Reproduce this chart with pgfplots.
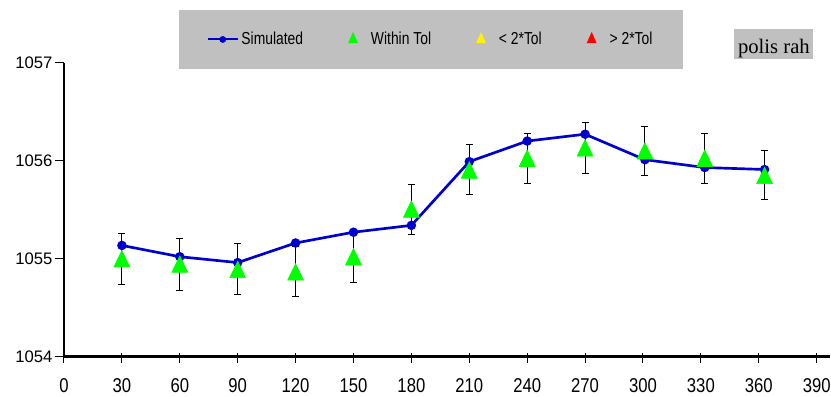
\documentclass[border=0pt]{standalone}
\usepackage{pgfplots}
\pgfplotsset{compat=1.18}
\usepackage{fontspec}
\setmainfont{Liberation Sans}
\newfontfamily\legfont{Liberation Sans}[FakeStretch=0.8]
\newfontfamily\seriffont{Liberation Serif}
\definecolor{simblue}{RGB}{0,0,204}
\definecolor{tolgreen}{RGB}{0,255,0}
\definecolor{boxgray}{RGB}{192,192,192}
\pgfplotsset{
  markleg/.style={legend image code/.code={\path (0pt,0pt) (22.5pt,0pt); \draw[##1] plot coordinates {(11.25pt,0pt)};}},
  lineleg/.style={legend image code/.code={\draw[mark repeat=2,mark phase=2,##1] plot coordinates {(0pt,0pt) (11.25pt,0pt) (22.5pt,0pt)};}},
}
\begin{document}
\begin{tikzpicture}
\begin{axis}[
  at={(0,0)}, anchor=south west,
  scale only axis, width=564.5pt, height=220.5pt,
  xmin=0, xmax=390, ymin=1054, ymax=1057,
  xtick={0,30,...,390}, ytick={1054,1055,1056,1057},
  axis lines=left, axis line style={-, line width=1.8pt},
  tick align=center, major tick length=7pt,
  tick style={black, line width=0.75pt},
  xtick style={yshift=-1pt}, ytick style={xshift=-3.5pt},
  /pgf/number format/assume math mode=true,
  /pgf/number format/1000 sep={},
  ticklabel style={font=\fontsize{12.5}{14}\selectfont},
  xticklabel style={inner sep=0pt, anchor=north, yshift=-12.5pt},
  yticklabel style={inner sep=0pt, anchor=east, xshift=-5pt},
  xticklabel={\scalebox{1}[1.2]{\pgfmathprintnumber{\tick}}},
  clip=false,
  legend columns=4,
  legend style={at={(0.4875,1.0789)}, anchor=center, fill=boxgray, draw=none,
    font=\legfont\fontsize{13}{15}\selectfont, inner xsep=21pt, inner ysep=14.5pt,
    /tikz/every even column/.append style={column sep=24pt}},
  legend cell align=left,
]
\addplot[simblue, line width=2pt, mark=*, mark size=2.5pt, mark options={solid}, forget plot] coordinates {
(30,1055.135) (60,1055.02) (90,1054.96) (120,1055.16) (150,1055.27) (180,1055.34)
(210,1055.99) (240,1056.20) (270,1056.27) (301,1056.01) (332,1055.93) (363,1055.91)};
\addplot[only marks, mark=none, forget plot,
  error bars/.cd, y dir=both, y explicit, error mark=-,
  error bar style={black, line width=0.75pt},
  error mark options={black, line width=0.75pt, mark size=2.6pt, rotate=90}]
 table[x=x, y=y, y error=e] {
x y e
30 1055.00 0.26
60 1054.945 0.265
90 1054.89 0.26
120 1054.865 0.255
150 1055.02 0.26
180 1055.505 0.255
210 1055.905 0.255
240 1056.025 0.255
270 1056.13 0.26
301 1056.10 0.25
332 1056.025 0.255
363 1055.85 0.25
};
\addplot[only marks, mark=triangle*, mark size=6.9pt, color=tolgreen, mark options={yshift=-2.07pt, yscale=1.2}, forget plot]
 table[x=x, y=y] {
x y
30 1055.00
60 1054.945
90 1054.89
120 1054.865
150 1055.02
180 1055.505
210 1055.905
240 1056.025
270 1056.13
301 1056.10
332 1056.025
363 1055.85
};
\addlegendimage{lineleg, simblue, line width=1.5pt, mark=*, mark size=1.75pt}
\addlegendentry{Simulated}
\addlegendimage{markleg, only marks, mark=triangle*, mark size=3.9pt, color=tolgreen, mark options={yscale=1.3}}
\addlegendentry{Within Tol}
\addlegendimage{markleg, only marks, mark=triangle*, mark size=3.9pt, color=yellow, mark options={yscale=1.3}}
\addlegendentry{< 2*Tol}
\addlegendimage{markleg, only marks, mark=triangle*, mark size=3.9pt, color=red, mark options={yscale=1.3}}
\addlegendentry{> 2*Tol}
\draw[line width=1.8pt] (axis cs:390,1054) -- ++(10pt,0pt);
\path[fill=boxgray] (axis description cs:0.8901,1.0127) rectangle (axis description cs:0.9951,1.1147);
\node[anchor=base, inner sep=0pt, font=\seriffont\fontsize{15.5}{17}\selectfont] at (axis description cs:0.9432,1.0295) {polis rah};
\end{axis}
\pgfresetboundingbox
\path[use as bounding box] (-48pt,-29.5pt) rectangle (575.25pt,267.5pt);
\end{tikzpicture}
\end{document}
